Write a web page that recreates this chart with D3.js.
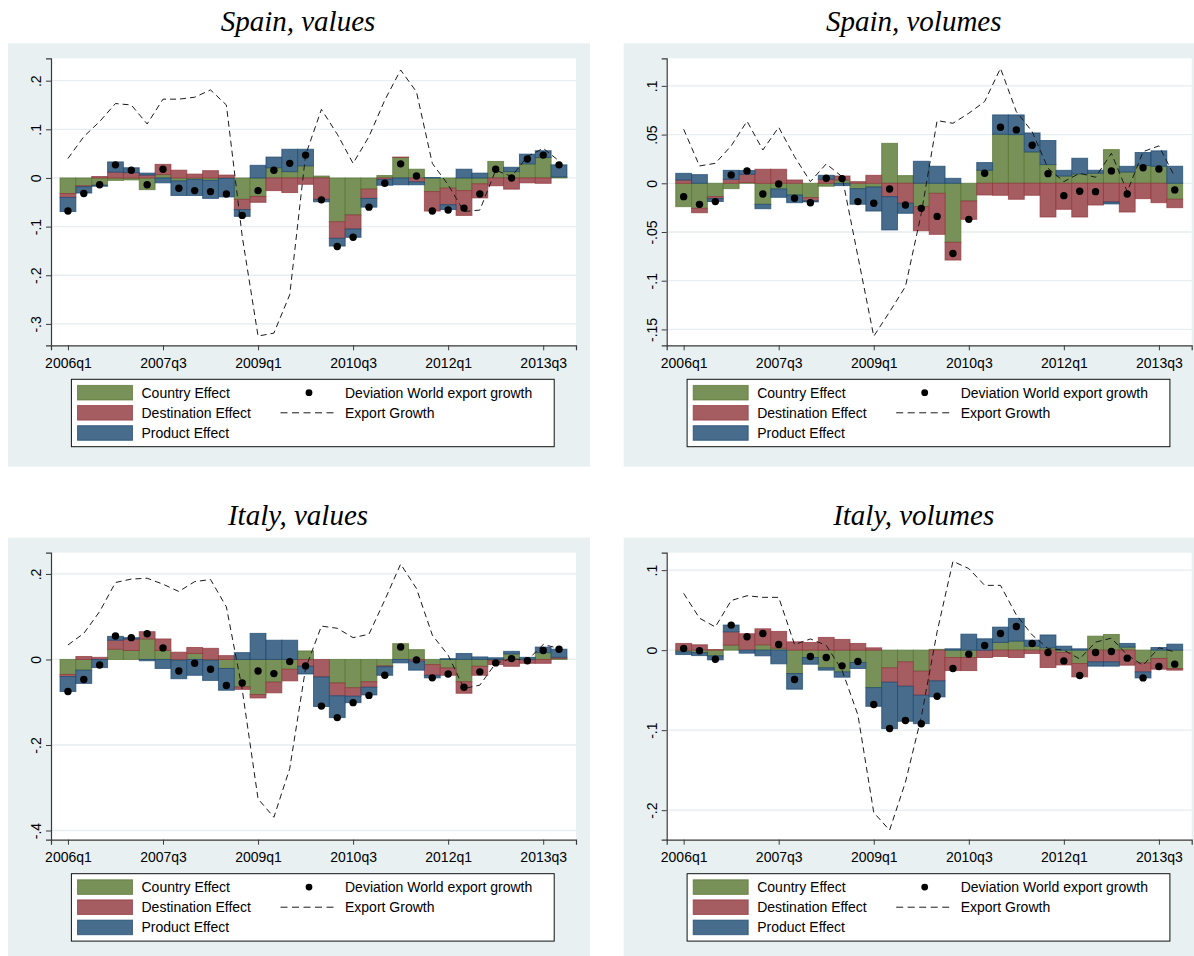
<!DOCTYPE html>
<html>
<head>
<meta charset="utf-8">
<script src="https://cdn.jsdelivr.net/npm/d3@7"></script>
<style>
  body { margin: 0; background: #ffffff; }
  svg { display: block; }
</style>
</head>
<body>
<svg id="chart" width="1194" height="956"></svg>
<script>
// Quarters on the x axis (2006q1 .. 2013q4)
const quarters = [
  "2006q1","2006q2","2006q3","2006q4","2007q1","2007q2","2007q3","2007q4",
  "2008q1","2008q2","2008q3","2008q4","2009q1","2009q2","2009q3","2009q4",
  "2010q1","2010q2","2010q3","2010q4","2011q1","2011q2","2011q3","2011q4",
  "2012q1","2012q2","2012q3","2012q4","2013q1","2013q2","2013q3","2013q4"
];
const xTickIndex = [0, 6, 12, 18, 24, 30];
const xTickLabels = ["2006q1","2007q3","2009q1","2010q3","2012q1","2013q3"];
const effectNames = ["Country Effect", "Destination Effect", "Product Effect"];
const dotName = "Deviation World export growth";
const lineName = "Export Growth";

// ---- Spain, values ----
const spainValuesCountry = [-0.032,-0.016,-0.015,-0.005,-0.004,-0.024,0.007,-0.006,-0.003,-0.005,-0.001,-0.044,-0.038,0.021,0.013,0.025,0.004,-0.090,-0.076,-0.023,0.005,0.042,0.018,-0.028,-0.021,-0.026,-0.012,0.034,0.013,0.029,0.042,0.002];
const spainValuesDestination = [-0.008,-0.002,0.003,0.012,0.011,0.006,0.021,0.016,0.008,0.015,0.006,-0.021,-0.012,-0.026,-0.030,-0.013,-0.044,-0.034,-0.029,-0.019,-0.003,0.001,-0.008,-0.040,-0.034,-0.051,-0.029,-0.016,-0.023,-0.010,-0.011,0.000];
const spainValuesProduct = [-0.029,-0.013,-0.002,0.021,0.010,0.004,-0.010,-0.030,-0.033,-0.037,-0.038,-0.014,0.026,0.022,0.046,0.034,-0.005,-0.016,-0.017,-0.018,-0.012,-0.014,-0.006,0.001,-0.010,0.018,0.010,0.000,0.009,0.020,0.014,0.025];
const spainValuesDeviation = [-0.068,-0.032,-0.014,0.027,0.016,-0.014,0.018,-0.021,-0.026,-0.028,-0.033,-0.077,-0.026,0.016,0.030,0.047,-0.045,-0.141,-0.122,-0.060,-0.011,0.029,0.004,-0.068,-0.066,-0.062,-0.033,0.018,0.000,0.039,0.047,0.027];
const spainValuesExport = [0.040,0.085,0.116,0.153,0.150,0.111,0.162,0.162,0.166,0.181,0.150,-0.120,-0.325,-0.319,-0.240,0.047,0.141,0.090,0.030,0.085,0.160,0.222,0.177,0.030,-0.014,-0.069,-0.066,0.016,0.003,0.044,0.061,0.035];
const spainValuesYTicks = [-0.3, -0.2, -0.1, 0, 0.1, 0.2];

// ---- Spain, volumes ----
const spainVolumesCountry = [-0.0240,-0.0257,-0.0137,-0.0055,0.0007,-0.0216,-0.0058,-0.0120,-0.0147,-0.0030,0.0034,-0.0055,-0.0038,0.0410,0.0079,-0.0240,-0.0103,-0.0606,-0.0182,0.0134,0.0503,0.0500,0.0322,0.0192,0.0075,0.0096,0.0103,0.0346,0.0116,0.0182,0.0175,-0.0164];
const spainVolumesDestination = [0.0034,-0.0045,-0.0020,0.0041,0.0086,0.0144,0.0144,0.0034,-0.0034,0.0041,0.0041,0.0017,0.0082,-0.0137,-0.0205,-0.0247,-0.0421,-0.0182,-0.0188,-0.0120,-0.0123,-0.0164,-0.0123,-0.0346,-0.0267,-0.0346,-0.0223,-0.0192,-0.0295,-0.0158,-0.0199,-0.0086];
const spainVolumesProduct = [0.0068,0.0089,-0.0030,0.0092,0.0038,-0.0045,-0.0086,-0.0079,-0.0010,0.0041,-0.0024,-0.0160,-0.0247,-0.0342,-0.0103,0.0226,0.0175,0.0051,0.0000,0.0079,0.0199,0.0202,0.0195,0.0247,0.0058,0.0161,0.0031,-0.0020,0.0058,0.0134,0.0158,0.0175];
const spainVolumesDeviation = [-0.0137,-0.0216,-0.0188,0.0086,0.0127,-0.0110,-0.0007,-0.0154,-0.0199,0.0051,0.0048,-0.0188,-0.0205,-0.0058,-0.0223,-0.0257,-0.0340,-0.0720,-0.0370,0.0103,0.0575,0.0548,0.0390,0.0099,-0.0127,-0.0082,-0.0086,0.0127,-0.0110,0.0160,0.0147,-0.0068];
const spainVolumesExport = [0.0555,0.0178,0.0205,0.0384,0.0637,0.0342,0.0575,0.0274,0.0017,0.0199,0.0068,-0.0750,-0.1570,-0.1320,-0.1060,-0.0310,0.0644,0.0616,0.0719,0.0839,0.1180,0.0736,0.0530,0.0154,0.0017,0.0103,0.0062,0.0308,-0.0086,0.0325,0.0384,0.0068];
const spainVolumesYTicks = [-0.15, -0.1, -0.05, 0, 0.05, 0.1];

// ---- Italy, values ----
const italyValuesCountry = [-0.035,-0.025,0.000,0.024,0.021,0.048,0.021,-0.002,0.014,-0.002,-0.021,-0.064,-0.082,-0.053,-0.023,0.020,0.000,-0.055,-0.066,-0.052,-0.015,0.037,0.023,-0.012,-0.020,-0.052,-0.016,-0.002,0.013,0.000,0.016,0.002];
const italyValuesDestination = [-0.005,0.007,0.005,0.021,0.027,0.017,0.027,0.017,0.014,0.026,0.009,-0.006,-0.008,-0.025,-0.027,-0.016,-0.041,-0.030,-0.020,-0.013,-0.002,0.000,-0.004,-0.025,-0.017,-0.027,-0.021,-0.010,-0.016,-0.009,-0.009,0.003];
const italyValuesProduct = [-0.035,-0.031,-0.019,0.009,0.003,-0.003,-0.021,-0.043,-0.037,-0.047,-0.051,0.016,0.061,0.045,0.045,-0.018,-0.069,-0.051,-0.015,-0.018,-0.020,-0.008,-0.021,-0.006,0.002,0.014,0.006,0.004,0.006,0.005,0.013,0.019];
const italyValuesDeviation = [-0.075,-0.047,-0.013,0.055,0.051,0.060,0.027,-0.027,-0.009,-0.023,-0.061,-0.055,-0.027,-0.033,-0.005,-0.015,-0.109,-0.136,-0.101,-0.084,-0.037,0.029,-0.001,-0.043,-0.034,-0.065,-0.029,-0.008,0.002,-0.003,0.021,0.024];
const italyValuesExport = [0.034,0.061,0.112,0.180,0.188,0.190,0.176,0.159,0.182,0.187,0.123,-0.070,-0.326,-0.369,-0.255,-0.021,0.078,0.073,0.051,0.059,0.139,0.223,0.166,0.057,0.010,-0.068,-0.060,-0.009,0.002,-0.002,0.035,0.026];
const italyValuesYTicks = [-0.4, -0.2, 0, 0.2];

// ---- Italy, volumes ----
const italyVolumesCountry = [-0.0020,-0.0030,-0.0071,0.0063,0.0000,0.0067,0.0025,-0.0292,-0.0092,-0.0221,-0.0271,-0.0154,-0.0468,-0.0221,-0.0146,-0.0263,0.0010,-0.0092,-0.0092,0.0000,0.0096,0.0113,0.0050,0.0030,-0.0030,-0.0167,0.0175,0.0196,0.0038,-0.0159,-0.0104,-0.0230];
const italyVolumesDestination = [0.0084,0.0067,0.0008,0.0167,0.0205,0.0200,0.0209,0.0104,0.0096,0.0159,0.0134,0.0084,0.0029,-0.0180,-0.0305,-0.0301,-0.0384,-0.0163,-0.0163,-0.0092,-0.0079,-0.0092,-0.0042,-0.0217,-0.0155,-0.0167,-0.0146,-0.0146,-0.0188,-0.0113,-0.0134,-0.0020];
const italyVolumesProduct = [-0.0035,-0.0038,-0.0050,0.0084,-0.0038,-0.0071,-0.0171,-0.0196,-0.0084,-0.0029,-0.0067,-0.0075,-0.0234,-0.0580,-0.0438,-0.0355,-0.0200,0.0017,0.0200,0.0142,0.0192,0.0284,0.0075,0.0160,0.0050,0.0017,-0.0054,-0.0054,0.0046,-0.0075,0.0033,0.0075];
const italyVolumesDeviation = [0.0021,-0.0008,-0.0113,0.0313,0.0167,0.0209,0.0071,-0.0367,-0.0079,-0.0092,-0.0196,-0.0142,-0.0680,-0.0980,-0.0880,-0.0920,-0.0576,-0.0230,-0.0050,0.0058,0.0209,0.0296,0.0084,-0.0029,-0.0134,-0.0317,-0.0029,-0.0017,-0.0100,-0.0347,-0.0205,-0.0175];
const italyVolumesExport = [0.071,0.040,0.029,0.062,0.068,0.066,0.066,0.007,0.014,0.006,-0.025,-0.081,-0.203,-0.225,-0.165,-0.0835,0.023,0.111,0.102,0.081,0.081,0.044,0.019,0.002,0.000,-0.011,0.010,0.015,-0.006,-0.019,0.003,-0.002];
const italyVolumesYTicks = [-0.2, -0.1, 0, 0.1];

// Panel set-up: title, series, y range of the plot region and position on the page
const panels = [
  { title: "Spain, values",  country: spainValuesCountry,  destination: spainValuesDestination,  product: spainValuesProduct,
    deviation: spainValuesDeviation,  growth: spainValuesExport,  yTicks: spainValuesYTicks,  yDomain: [-0.344, 0.246], dx: 0,     dy: 0 },
  { title: "Spain, volumes", country: spainVolumesCountry, destination: spainVolumesDestination, product: spainVolumesProduct,
    deviation: spainVolumesDeviation, growth: spainVolumesExport, yTicks: spainVolumesYTicks, yDomain: [-0.1663, 0.1283], dx: 615.7, dy: 0 },
  { title: "Italy, values",  country: italyValuesCountry,  destination: italyValuesDestination,  product: italyValuesProduct,
    deviation: italyValuesDeviation,  growth: italyValuesExport,  yTicks: italyValuesYTicks,  yDomain: [-0.4215, 0.2497], dx: 0,     dy: 494.4 },
  { title: "Italy, volumes", country: italyVolumesCountry, destination: italyVolumesDestination, product: italyVolumesProduct,
    deviation: italyVolumesDeviation, growth: italyVolumesExport, yTicks: italyVolumesYTicks, yDomain: [-0.2369, 0.1218], dx: 615.7, dy: 494.4 }
];

// Colours: outline = full colour, fill = 80% intensity
const effectStroke = ["rgb(85,117,47)", "rgb(144,53,59)", "rgb(26,71,111)"];
const effectFill   = ["rgb(119,145,89)", "rgb(166,93,98)", "rgb(72,108,140)"];
const regionColor = "#e8f0f2";
const gridColor = "#e6eef1";
const sansFont = "'Liberation Sans', Arial, sans-serif";
const serifFont = "'Liberation Serif', 'Times New Roman', serif";

// Frame geometry of one panel (relative to its offset)
const frame = { bgX: 8, bgY: 43.3, bgW: 582, bgH: 423.4,
                plotL: 51, plotR: 576, plotT: 58.3, plotB: 345.3 };

// Stata-style number labels: .2, -.05, 0
function stataFmt(v) {
  if (Math.abs(v) < 1e-12) return "0";
  let s = String(+v.toFixed(4));
  return s.replace(/^(-?)0\./, "$1.");
}

const svg = d3.select("#chart");
const keys = ["country", "destination", "product"];

panels.forEach(p => {
  const g = svg.append("g").attr("transform", `translate(${p.dx},${p.dy})`);

  // graph region background
  g.append("rect")
    .attr("x", frame.bgX).attr("y", frame.bgY)
    .attr("width", frame.bgW).attr("height", frame.bgH)
    .attr("fill", regionColor);

  // title
  g.append("text")
    .attr("x", (frame.bgX + frame.bgX + frame.bgW) / 2 - 1)
    .attr("y", 31)
    .attr("text-anchor", "middle")
    .attr("font-family", serifFont)
    .attr("font-style", "italic")
    .attr("font-size", 29)
    .attr("fill", "#000")
    .text(p.title);

  // plot region
  g.append("rect")
    .attr("x", frame.plotL).attr("y", frame.plotT)
    .attr("width", frame.plotR - frame.plotL).attr("height", frame.plotB - frame.plotT)
    .attr("fill", "#ffffff");

  const x = d3.scaleLinear().domain([-1.07, 32.07]).range([frame.plotL, frame.plotR]);
  const y = d3.scaleLinear().domain(p.yDomain).range([frame.plotB, frame.plotT]);

  // horizontal grid lines
  g.append("g").selectAll("line")
    .data(p.yTicks)
    .join("line")
    .attr("x1", frame.plotL + 1).attr("x2", frame.plotR)
    .attr("y1", d => y(d)).attr("y2", d => y(d))
    .attr("stroke", gridColor).attr("stroke-width", 1.3);

  // stacked effect bars (positive and negative parts stacked separately)
  const rows = quarters.map((q, i) => ({
    i, country: p.country[i], destination: p.destination[i], product: p.product[i]
  }));
  const stacked = d3.stack().keys(keys).offset(d3.stackOffsetDiverging)(rows);

  stacked.forEach((layer, k) => {
    g.append("g")
      .selectAll("rect")
      .data(layer)
      .join("rect")
      .attr("x", d => x(d.data.i - 0.5))
      .attr("width", d => x(d.data.i + 0.5) - x(d.data.i - 0.5))
      .attr("y", d => Math.min(y(d[0]), y(d[1])))
      .attr("height", d => Math.abs(y(d[0]) - y(d[1])))
      .attr("fill", effectFill[k])
      .attr("stroke", effectStroke[k])
      .attr("stroke-width", 1)
      .attr("stroke-opacity", 0.7);
  });

  // export growth (dashed line)
  const line = d3.line()
    .x((d, i) => x(i))
    .y(d => y(d));
  g.append("path")
    .datum(p.growth)
    .attr("d", line)
    .attr("fill", "none")
    .attr("stroke", "#1a1a1a")
    .attr("stroke-width", 1)
    .attr("stroke-dasharray", "6,4");

  // deviation from world export growth (dots)
  g.append("g").selectAll("circle")
    .data(p.deviation)
    .join("circle")
    .attr("cx", (d, i) => x(i))
    .attr("cy", d => y(d))
    .attr("r", 3.7)
    .attr("fill", "#000");

  // axes
  const xAxis = d3.axisBottom(x)
    .tickValues(xTickIndex)
    .tickFormat((d, i) => xTickLabels[i])
    .tickSizeOuter(0)
    .tickSize(5)
    .tickPadding(4);
  const xg = g.append("g")
    .attr("transform", `translate(0,${frame.plotB})`)
    .call(xAxis);
  xg.select(".domain").attr("stroke", "#3a3a3a").attr("stroke-width", 1.2);
  xg.selectAll(".tick line").attr("stroke", "#3a3a3a");
  xg.selectAll(".tick text")
    .attr("font-family", sansFont).attr("font-size", 14).attr("fill", "#000")
    .attr("dy", "0.95em");

  const yAxis = d3.axisLeft(y)
    .tickValues(p.yTicks)
    .tickFormat(stataFmt)
    .tickSizeOuter(0)
    .tickSize(5);
  const yg = g.append("g")
    .attr("transform", `translate(${frame.plotL},0)`)
    .call(yAxis);
  yg.select(".domain").attr("stroke", "#3a3a3a").attr("stroke-width", 1.2);
  yg.selectAll(".tick line").attr("stroke", "#3a3a3a");
  yg.selectAll(".tick text")
    .attr("font-family", sansFont).attr("font-size", 14).attr("fill", "#000")
    .attr("x", null).attr("dy", null)
    .attr("text-anchor", "middle")
    .attr("transform", "translate(-10,0) rotate(-90)");

  // legend
  const lg = g.append("g");
  lg.append("rect")
    .attr("x", 71.4).attr("y", 379.3)
    .attr("width", 554.2 - 71.4).attr("height", 446.7 - 379.3)
    .attr("fill", "#ffffff").attr("stroke", "#111").attr("stroke-width", 1);
  const rowY = [392.7, 412.8, 433.0];
  effectNames.forEach((name, k) => {
    lg.append("rect")
      .attr("x", 77.5).attr("y", rowY[k] - 7.3)
      .attr("width", 55).attr("height", 14.6)
      .attr("fill", effectFill[k]).attr("stroke", effectStroke[k]).attr("stroke-opacity", 0.7);
    lg.append("text")
      .attr("x", 141.5).attr("y", rowY[k] + 5)
      .attr("font-family", sansFont).attr("font-size", 14).attr("fill", "#000")
      .text(name);
  });
  lg.append("circle").attr("cx", 309).attr("cy", rowY[0]).attr("r", 3.4).attr("fill", "#000");
  lg.append("text")
    .attr("x", 345).attr("y", rowY[0] + 5)
    .attr("font-family", sansFont).attr("font-size", 14).attr("fill", "#000")
    .text(dotName);
  lg.append("line")
    .attr("x1", 280.5).attr("x2", 337).attr("y1", rowY[1]).attr("y2", rowY[1])
    .attr("stroke", "#1a1a1a").attr("stroke-width", 1).attr("stroke-dasharray", "7,4.5");
  lg.append("text")
    .attr("x", 345).attr("y", rowY[1] + 5)
    .attr("font-family", sansFont).attr("font-size", 14).attr("fill", "#000")
    .text(lineName);
});
</script>
</body>
</html>
